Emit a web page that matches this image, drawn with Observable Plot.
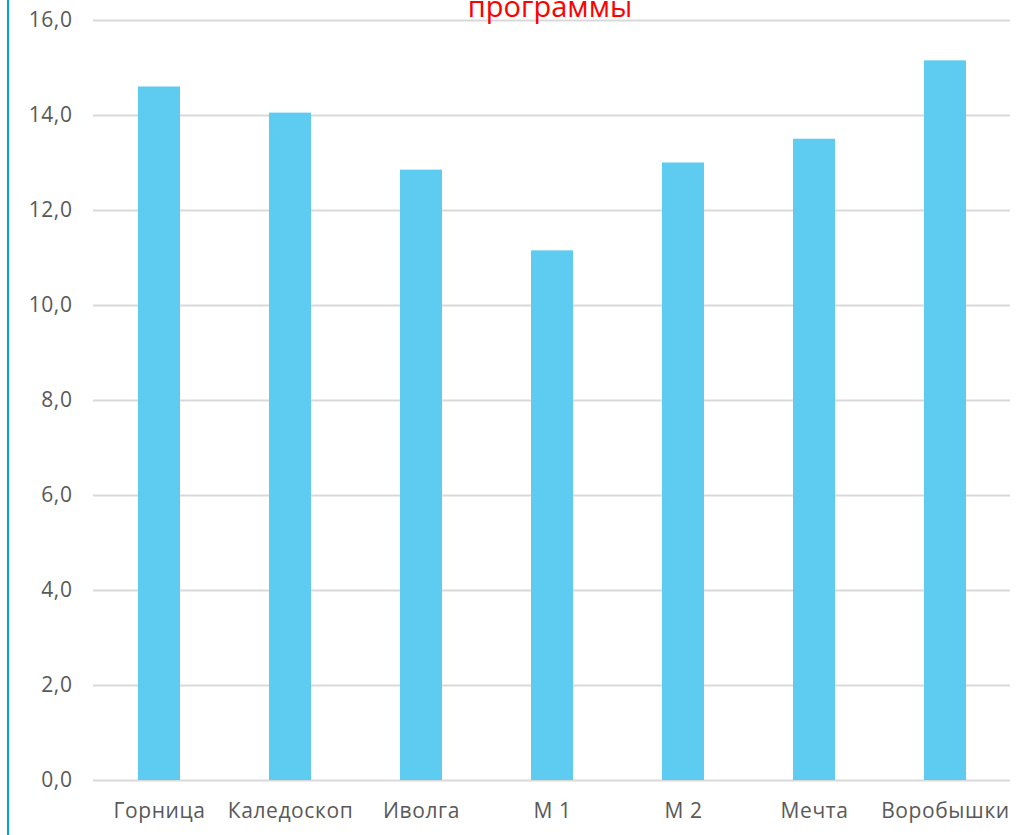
<!DOCTYPE html>
<html>
<head>
<meta charset="utf-8">
<script src="https://cdn.jsdelivr.net/npm/d3@7"></script>
<script src="https://cdn.jsdelivr.net/npm/@observablehq/plot@0.6"></script>
<style>
  html, body { margin: 0; padding: 0; background: #fff; overflow: hidden; }
  #wrap { position: relative; width: 1032px; height: 835px; overflow: hidden; }
  #edge { position: absolute; left: 7px; top: 0; width: 2px; height: 835px; background: #00a3e0; }
  #title { position: absolute; left: 0; width: 1100px; text-align: center; top: -14px;
    font-family: "Open Sans", sans-serif; font-size: 29px; color: #ff0000; z-index: 2; white-space: nowrap; }
  #chart { position: absolute; left: 0; top: 0; }
  #chart svg text { letter-spacing: 0.6px; }
</style>
</head>
<body>
<div id="wrap">
  <div id="edge"></div>
  <div id="chart"></div>
  <div id="title">программы</div>
</div>
<script>
const categories = ["Горница", "Каледоскоп", "Иволга", "М 1", "М 2", "Мечта", "Воробышки"];
const values = [14.6, 14.05, 12.85, 11.15, 13.0, 13.5, 15.15];
const yTicks = [0, 2, 4, 6, 8, 10, 12, 14, 16];

const data = categories.map((c, i) => ({category: c, value: values[i]}));
const fmt = d => d.toFixed(1).replace(".", ",");

const chart = Plot.plot({
  width: 1032,
  height: 835,
  marginLeft: 93,
  marginRight: 22,
  marginTop: 20,
  marginBottom: 55,
  style: {fontFamily: "'Open Sans', sans-serif", fontSize: "22px", color: "#595959", background: "transparent"},
  x: {domain: categories, paddingInner: 0.68, paddingOuter: 0.34, label: null},
  y: {domain: [0, 16], label: null},
  marks: [
    Plot.gridY(yTicks, {stroke: "#d9d9d9", strokeOpacity: 1, strokeWidth: 2}),
    Plot.barY(data, {x: "category", y: "value", fill: "#5ecbf0"}),
    Plot.axisY({ticks: yTicks, tickFormat: fmt, tickSize: 0, tickPadding: 21, fontSize: 21, fill: "#595959"}),
    Plot.axisX({tickSize: 0, tickPadding: 23, fontSize: 21, fill: "#595959"})
  ]
});
document.getElementById("chart").appendChild(chart);
</script>
</body>
</html>
